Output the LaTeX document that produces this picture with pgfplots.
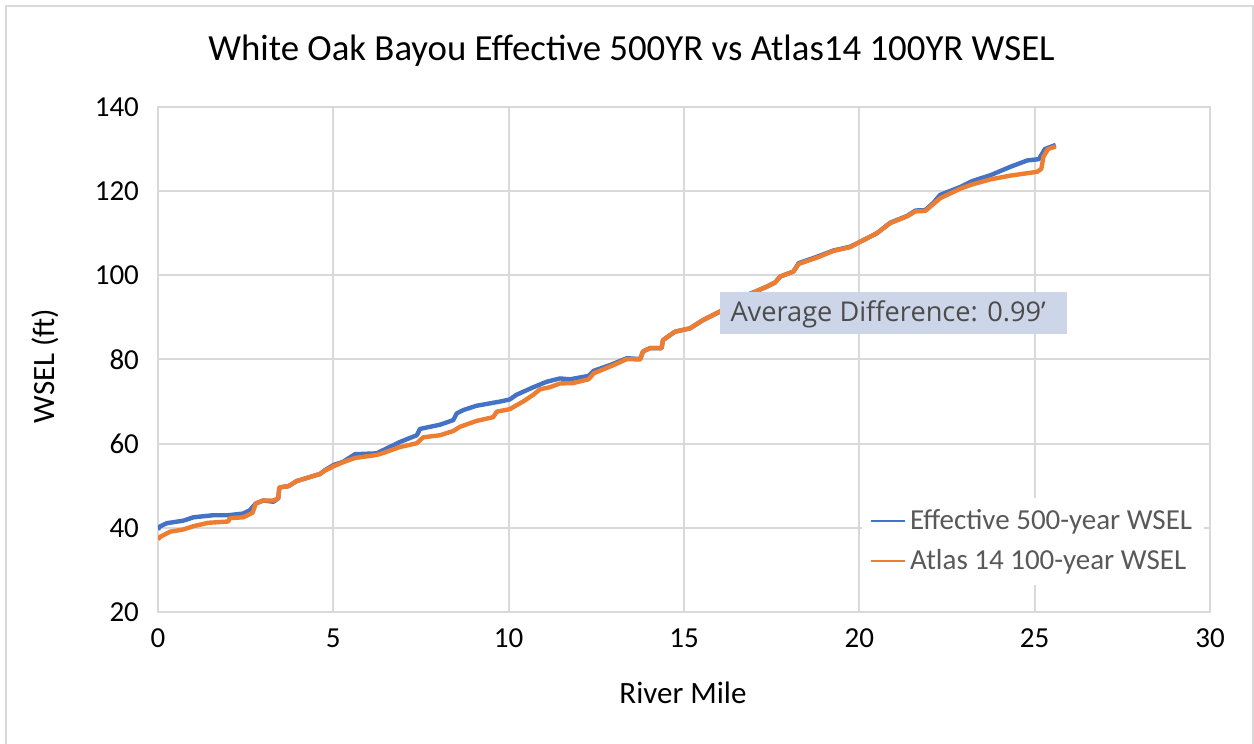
\documentclass[border=0pt]{standalone}
\usepackage{pgfplots}
\pgfplotsset{compat=1.18}
\usepackage{fontspec}
\setmainfont{Carlito}
\newfontfamily\annfont{Open Sans}
\definecolor{cblue}{HTML}{4472C4}
\definecolor{corange}{HTML}{ED7D31}
\definecolor{cgrid}{HTML}{D9D9D9}
\definecolor{cbox}{HTML}{CDD5E9}
\definecolor{ctext}{HTML}{595959}

\pgfplotstableread{
x y
0.00 39.6
0.05 40.3
0.25 41.1
0.72 41.7
1.01 42.5
1.58 43.0
2.00 43.0
2.43 43.4
2.62 44.2
2.79 45.8
3.00 46.5
3.29 46.2
3.43 47.0
3.46 49.6
3.72 49.9
3.95 51.1
4.62 52.8
4.76 53.7
5.00 54.9
5.28 55.7
5.62 57.5
6.23 57.7
6.43 58.5
6.90 60.4
7.38 62.0
7.47 63.5
8.04 64.5
8.42 65.6
8.52 67.2
8.71 68.0
9.08 69.0
9.75 70.0
10.03 70.5
10.22 71.6
10.70 73.4
11.08 74.7
11.46 75.5
11.75 75.3
12.28 76.1
12.42 77.3
12.90 78.7
13.37 80.3
13.75 80.1
13.83 81.9
14.03 82.7
14.36 82.7
14.40 84.6
14.74 86.6
15.17 87.4
15.55 89.4
16.03 91.4
16.50 93.4
16.88 95.6
17.36 97.3
17.60 98.3
17.74 99.7
18.12 100.9
18.27 102.9
18.79 104.4
19.26 105.9
19.74 106.8
20.03 108.0
20.50 110.0
20.88 112.5
21.36 114.1
21.60 115.4
21.88 115.5
22.12 117.3
22.30 119.1
22.88 121.0
23.22 122.4
23.74 123.8
24.31 125.8
24.79 127.3
25.12 127.6
25.29 130.0
25.60 131.0
}\effective

\pgfplotstableread{
x y
0.00 37.2
0.05 37.8
0.35 39.1
0.72 39.6
1.01 40.4
1.44 41.2
2.00 41.5
2.05 42.3
2.43 42.5
2.70 43.6
2.79 45.8
3.00 46.5
3.29 46.5
3.43 47.0
3.46 49.6
3.72 49.9
3.95 51.1
4.62 52.8
4.76 53.6
5.00 54.6
5.28 55.6
5.62 56.6
6.23 57.3
6.43 57.8
6.90 59.2
7.38 60.1
7.56 61.5
8.04 62.0
8.42 63.0
8.61 64.0
9.08 65.4
9.56 66.3
9.66 67.6
10.03 68.2
10.41 70.0
10.70 71.6
10.89 72.9
11.17 73.4
11.46 74.3
11.84 74.4
12.28 75.3
12.42 76.7
13.00 78.7
13.37 80.1
13.75 80.0
13.83 81.9
14.03 82.7
14.36 82.7
14.40 84.6
14.74 86.6
15.17 87.4
15.55 89.4
16.03 91.4
16.50 93.4
16.88 95.6
17.36 97.3
17.60 98.3
17.74 99.7
18.12 100.9
18.27 102.7
18.79 104.2
19.26 105.8
19.74 106.7
20.03 108.0
20.50 110.0
20.88 112.4
21.36 114.0
21.60 115.2
21.88 115.3
22.12 117.0
22.30 118.3
22.88 120.6
23.22 121.6
23.74 122.8
24.31 123.7
25.07 124.6
25.19 125.3
25.25 128.2
25.38 130.0
25.60 130.6
}\atlas

\begin{document}
\begin{tikzpicture}[x=1pt,y=1pt]
\useasboundingbox (0,0) rectangle (627,372);
\draw[cgrid, line width=1pt] (3,-5) -- (3,369) -- (626.3,369) -- (626.3,-5);
\node[font=\fontsize{18.4}{22}\selectfont] at (315.75,346.5) {White Oak Bayou Effective 500YR vs Atlas14 100YR WSEL};
\node[font=\fontsize{15.5}{18}\selectfont] at (341.5,25.5) {River Mile};
\node[font=\fontsize{15.5}{18}\selectfont, rotate=90] at (22.5,189) {WSEL (ft)};
\begin{axis}[
  at={(79pt,66pt)}, anchor=south west,
  scale only axis, width=526pt, height=252.5pt,
  xmin=0, xmax=30, ymin=20, ymax=140,
  xtick={0,5,...,30}, ytick={20,40,...,140},
  grid=major,
  major grid style={cgrid, line width=1pt},
  axis line style={cgrid, line width=1pt},
  tick style={draw=none},
  /pgf/number format/assume math mode=true,
  ticklabel style={font=\fontsize{14.5}{17}\selectfont, text=black},
  yticklabel style={xshift=-6pt},
  xticklabel style={yshift=-5pt},
  legend style={at={(axis cs:20.07,47.3)}, anchor=north west, draw=none, fill=white,
    font=\fontsize{14.5}{17}\selectfont, text=ctext, row sep=4.6pt, inner xsep=4pt, inner ysep=4pt,
    legend cell align=left},
  legend image code/.code={\draw[#1, line width=1pt] (0pt,0pt) -- (17pt,0pt);},
]
\addplot[cblue, line width=2.2pt, line join=round] table[x=x,y=y] {\effective};
\addlegendentry{Effective 500-year WSEL}
\addplot[corange, line width=2.2pt, line join=round] table[x=x,y=y] {\atlas};
\addlegendentry{Atlas 14 100-year WSEL}
\node[fill=cbox, minimum width=173.5pt, minimum height=21pt, inner sep=0pt] at (axis cs:20.97,91.05) {};
\node[anchor=west, text=ctext!85!black, inner sep=0pt, font=\annfont\fontsize{13.6}{16}\selectfont] at (axis cs:16.03,91.05) [xshift=5pt, yshift=-0.5pt] {Average Difference: 0.99’};
\end{axis}
\end{tikzpicture}
\end{document}
